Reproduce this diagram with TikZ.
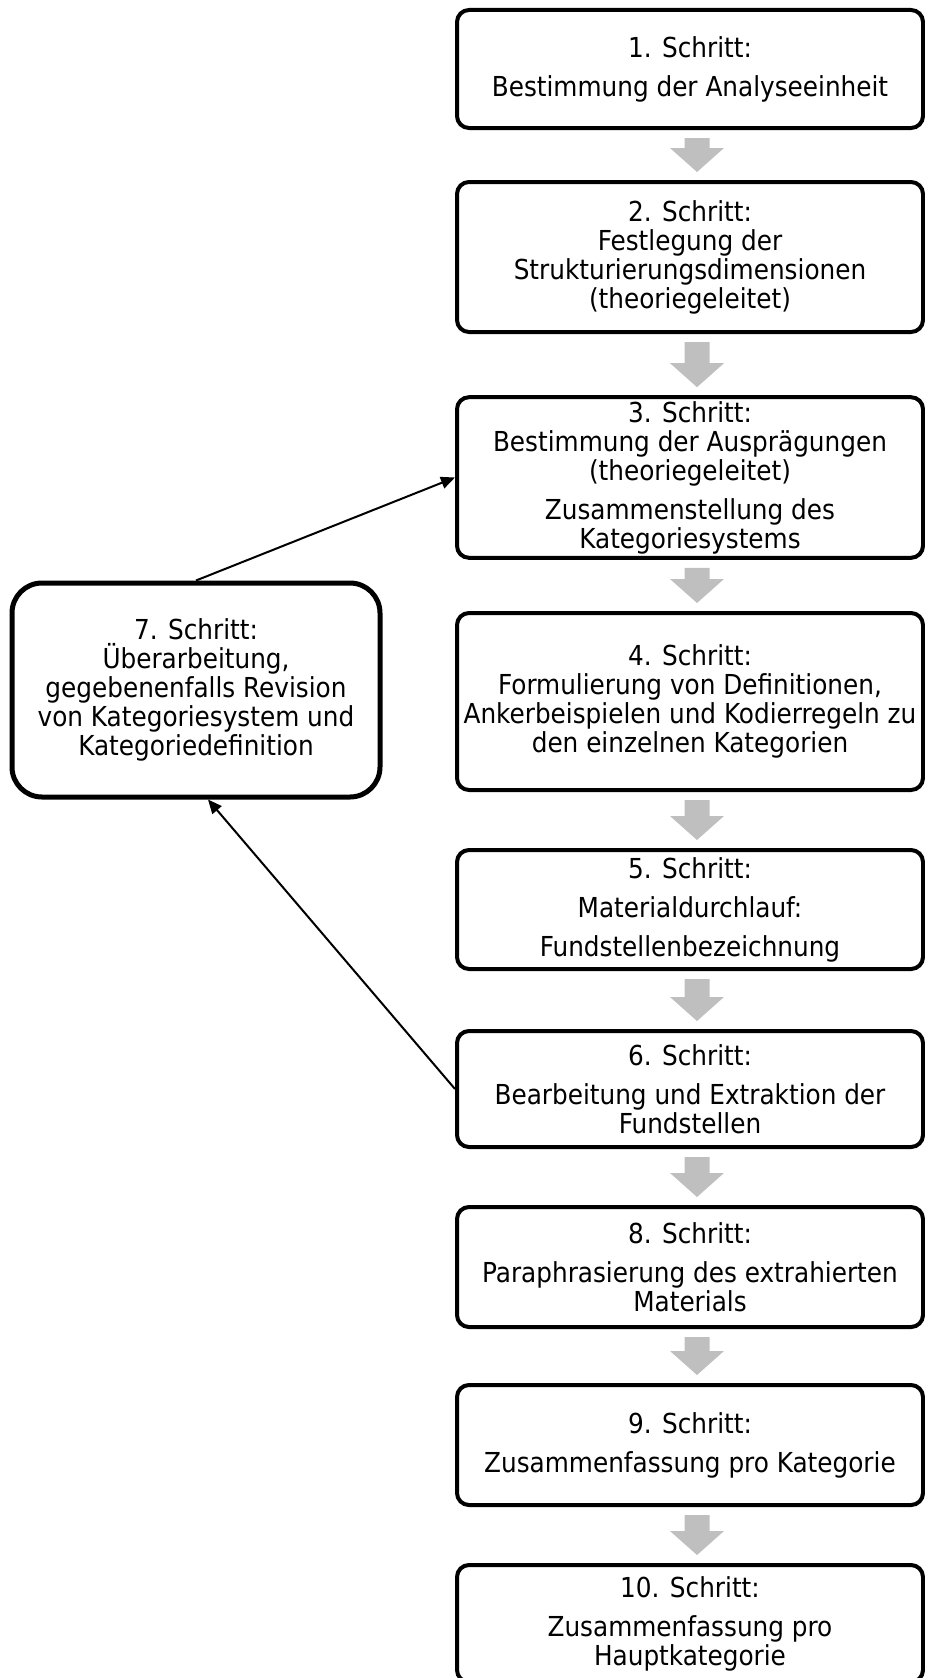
\documentclass[tikz,border=0pt]{standalone}
\usepackage{fontspec}
\setmainfont{DejaVu Sans Condensed}
\usetikzlibrary{arrows.meta, calc}
\definecolor{cflow}{HTML}{BFBFBF}
\tikzset{
  every picture/.style={x=1pt, y=-1pt},
  stepbox/.style={draw=black, line width=4pt, rounded corners=12pt, align=center, inner sep=4pt, minimum width=466pt, font=\fontsize{27.5}{29}\selectfont},
  loopbox/.style={stepbox, line width=5pt, rounded corners=30pt, minimum width=368pt},
  flow/.style={fill=cflow},
  back/.style={-{Triangle[length=14pt, width=12pt]}, line width=2pt},
}
\begin{document}
\begin{tikzpicture}
  \useasboundingbox (0,0) rectangle (925,1678);
  \node[stepbox, minimum height=118pt] (s1) at (690, 69) {1. Schritt:\\[10pt]Bestimmung der Analyseeinheit};
  \node[stepbox, minimum height=150pt] (s2) at (690, 257) {2. Schritt:\\Festlegung der\\Strukturierungsdimensionen\\(theoriegeleitet)};
  \node[stepbox, minimum height=151pt] (s3) at (690, 477.5) {3. Schritt:\\Bestimmung der Ausprägungen\\(theoriegeleitet)\\[10pt]Zusammenstellung des\\Kategoriesystems};
  \node[stepbox, minimum height=177pt] (s4) at (690, 701.5) {4. Schritt:\\Formulierung von Definitionen,\\Ankerbeispielen und Kodierregeln zu\\den einzelnen Kategorien};
  \node[stepbox, minimum height=119pt] (s5) at (690, 909.5) {5. Schritt:\\[10pt]Materialdurchlauf:\\[10pt]Fundstellenbezeichnung};
  \node[stepbox, minimum height=116pt] (s6) at (690, 1089) {6. Schritt:\\[10pt]Bearbeitung und Extraktion der\\Fundstellen};
  \node[stepbox, minimum height=120pt] (s8) at (690, 1267) {8. Schritt:\\[10pt]Paraphrasierung des extrahierten\\Materials};
  \node[stepbox, minimum height=120pt] (s9) at (690, 1445) {9. Schritt:\\[10pt]Zusammenfassung pro Kategorie};
  \node[stepbox, minimum height=117pt] (s10) at (690, 1623.5) {10. Schritt:\\[10pt]Zusammenfassung pro\\Hauptkategorie};
  \node[loopbox, minimum height=214pt] (s7) at (196, 690) {7. Schritt:\\Überarbeitung,\\gegebenenfalls Revision\\von Kategoriesystem und\\Kategoriedefinition};

  % grey block arrows between the steps
  \foreach \a/\b in {s1/s2, s2/s3, s3/s4, s4/s5, s5/s6, s6/s8, s8/s9, s9/s10}
    \fill[flow] let \p1=(\a.south), \p2=(\b.north) in
      (\x1-5.5pt,\y1-8pt) -- (\x1+19.5pt,\y1-8pt) -- (\x1+19.5pt,\y2+32pt) -- (\x1+34pt,\y2+32pt)
      -- (\x1+7pt,\y2+8pt) -- (\x1-20pt,\y2+32pt) -- (\x1-5.5pt,\y2+32pt) -- cycle;

  \draw[back] (s7.north) -- (s3.west);
  \draw[back] (s6.west) -- ([xshift=12pt]s7.south);
\end{tikzpicture}
\end{document}
